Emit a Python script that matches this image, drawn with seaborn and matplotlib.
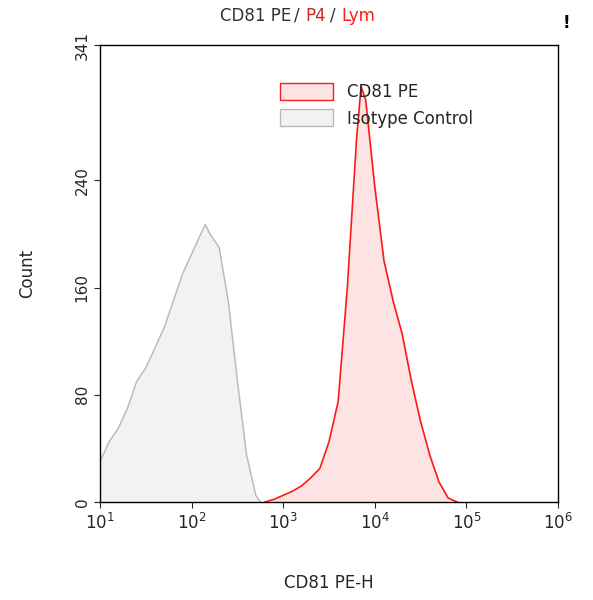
import numpy as np
import pandas as pd
import matplotlib
matplotlib.use("Agg")
import matplotlib.pyplot as plt
import seaborn as sns
from matplotlib.patches import Patch

# isotype control histogram (log10 position, count)
iso_log = [1.0, 1.1, 1.2, 1.3, 1.4, 1.5, 1.6, 1.7, 1.8, 1.9, 2.0, 2.1, 2.15, 2.2, 2.3, 2.4, 2.5, 2.6, 2.7, 2.75]
iso_count = [30, 45, 55, 70, 90, 100, 115, 130, 150, 170, 185, 200, 207, 200, 190, 150, 90, 35, 5, 0]

# CD81 PE histogram
cd_log = [2.8, 2.9, 3.0, 3.1, 3.2, 3.3, 3.4, 3.5, 3.6, 3.7, 3.8, 3.85, 3.9, 4.0, 4.1, 4.2, 4.3, 4.4, 4.5, 4.6, 4.7, 4.8, 4.9]
cd_count = [0, 2, 5, 8, 12, 18, 25, 45, 75, 160, 270, 310, 300, 235, 180, 150, 125, 90, 60, 35, 15, 3, 0]

y_ticks = [0, 80, 160, 240, 341]
x_ticks = [1, 2, 3, 4, 5, 6]

sns.set_style("white")
fig = plt.figure(figsize=(5.93, 6.0), dpi=100)
ax = fig.add_axes([100/593, 98/600, 458/593, 457/600])

iso = pd.DataFrame({"x": iso_log, "y": iso_count})
cd = pd.DataFrame({"x": cd_log, "y": cd_count})

ax.fill_between(iso["x"], iso["y"], color="#f2f2f2")
sns.lineplot(data=iso, x="x", y="y", ax=ax, color="#b8b8b8", lw=1)
ax.fill_between(cd["x"], cd["y"], color="#fde3e3")
sns.lineplot(data=cd, x="x", y="y", ax=ax, color="#ff1a1a", lw=1.2)

ax.set_xlim(1, 6)
ax.set_ylim(0, 341)
ax.set_xticks(x_ticks)
ax.set_xticklabels([f"$10^{{{t}}}$" for t in x_ticks], fontsize=12)
ax.set_yticks(y_ticks)
ax.set_yticklabels([str(t) for t in y_ticks], rotation=90, va="center", fontsize=11)
ax.tick_params(direction="out", length=4, bottom=True, left=True)
ax.set_xlabel("CD81 PE-H", fontsize=12, labelpad=30)
ax.set_ylabel("Count", fontsize=12, labelpad=28)
for s in ax.spines.values():
    s.set_color("black")
    s.set_linewidth(1)

handles = [Patch(facecolor="#fde3e3", edgecolor="#ff1a1a", label="CD81 PE"),
           Patch(facecolor="#f2f2f2", edgecolor="#b8b8b8", label="Isotype Control")]
ax.legend(handles=handles, loc="upper left", bbox_to_anchor=(0.36, 0.95),
          frameon=False, fontsize=12, handlelength=3.2, handleheight=1.2)

ty = 1 - 16/600
fig.text(220/593, ty, "CD81 PE", color="#333333", fontsize=12, ha="left", va="center")
fig.text(294/593, ty, "/", color="#333333", fontsize=12, ha="left", va="center")
fig.text(305/593, ty, "P4", color="#cc2a2a", fontsize=12, ha="left", va="center")
fig.text(330/593, ty, "/", color="#333333", fontsize=12, ha="left", va="center")
fig.text(341/593, ty, "Lym", color="#ff1a1a", fontsize=12, ha="left", va="center")
fig.text(566/593, 1 - 28/600, "!", color="black", fontsize=12, fontweight="bold", ha="center")

fig.savefig("out.png", dpi=100)
